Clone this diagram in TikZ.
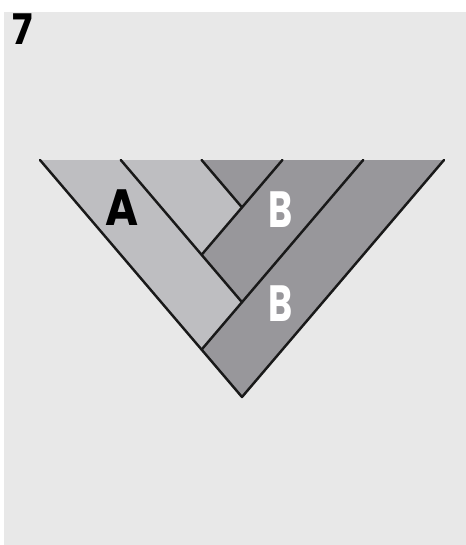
\documentclass[tikz,border=0pt]{standalone}
\usepackage{fontspec}
\setmainfont{Poppins}
\definecolor{panelgray}{HTML}{E8E8E8}
\definecolor{lightstrip}{HTML}{BEBEC1}
\definecolor{darkstrip}{HTML}{98979B}
\begin{document}
\begin{tikzpicture}
    [x=0.02cm, y=-0.02cm,
    line cap=round,
    line join=round,
    seam/.style={line width=1.4pt, black!90},
    letter/.style={font=\bfseries\fontsize{29}{29}\selectfont, inner sep=0pt}]

    \useasboundingbox (0,0) rectangle (466,545);
    \fill[white] (0,0) rectangle (466,545);
    \fill[panelgray] (4,12) rectangle (466,545);

    \coordinate (T0) at (40,160);
    \coordinate (T1) at (120.8,160);
    \coordinate (T2) at (201.6,160);
    \coordinate (T3) at (282.4,160);
    \coordinate (T4) at (363.2,160);
    \coordinate (T5) at (444,160);
    \coordinate (apex) at (242,397);
    \coordinate (X1) at (242,207.4);
    \coordinate (X2) at (201.6,254.8);
    \coordinate (X3) at (242,302.2);
    \coordinate (X4) at (201.6,349.6);

    % Streifen
    \fill[lightstrip] (T0) -- (T1) -- (X3) -- (X4) -- cycle;
    \fill[lightstrip] (T1) -- (T2) -- (X1) -- (X2) -- cycle;
    \fill[darkstrip] (T2) -- (T3) -- (X1) -- cycle;
    \fill[darkstrip] (T3) -- (T4) -- (X3) -- (X2) -- cycle;
    \fill[darkstrip] (T4) -- (T5) -- (apex) -- (X4) -- cycle;

    % Nahtlinien
    \draw[seam] (T0) -- (apex) -- (T5);
    \draw[seam] (T1) -- (X3);
    \draw[seam] (T2) -- (X1);
    \draw[seam] (T3) -- (X2);
    \draw[seam] (T4) -- (X4);

    \node[anchor=north west, inner sep=0pt, xscale=0.9, font=\bfseries\fontsize{24}{24}\selectfont] (nummer) at (12,13) {7};
    \node[letter, xscale=0.88] (labelA) at (122,208) {A};
    \node[letter, xscale=0.72, white] (labelB1) at (281,210) {B};
    \node[letter, xscale=0.72, white] (labelB2) at (281,304) {B};
\end{tikzpicture}
\end{document}
